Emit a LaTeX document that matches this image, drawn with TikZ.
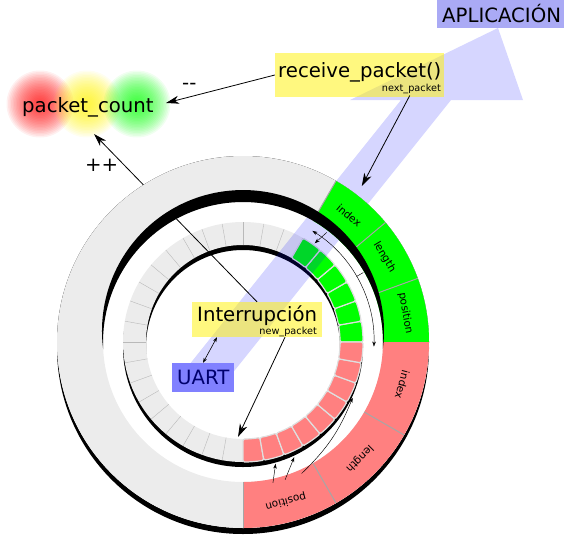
\documentclass[tikz,border=0pt]{standalone}
\usepackage{fontspec}
\setmainfont{DejaVu Sans}
\usetikzlibrary{arrows.meta, positioning}
\definecolor{RingGray}{RGB}{236,236,236}
\definecolor{SegGreen}{RGB}{0,255,0}
\definecolor{SegRed}{RGB}{255,128,128}
\definecolor{AppBlue}{RGB}{170,170,245}
\definecolor{UartBlue}{RGB}{128,128,255}
\definecolor{UartText}{RGB}{0,0,110}
\tikzset{
  bigtxt/.style={font=\fontsize{19.7}{22}\selectfont, inner sep=0pt, anchor=base west},
  subtxt/.style={font=\fontsize{9.7}{11}\selectfont, inner sep=0pt, anchor=base east},
  notebox/.style={fill=yellow, fill opacity=0.5, inner sep=0pt},
  appbox/.style={fill=AppBlue, inner sep=0pt},
  uartbox/.style={fill=UartBlue, inner sep=0pt},
  seglbl/.style={font=\fontsize{10.5}{12}\selectfont, inner sep=0pt},
  cell/.style={draw=gray!25, line width=1.2pt, rounded corners=1.5pt},
  band/.style={fill=blue, fill opacity=0.16},
  arr/.style={-{Stealth[length=13pt, width=8pt, inset=4pt]}, line width=0.8pt},
  sarr/.style={-{Stealth[length=5pt, width=3.5pt, inset=1.5pt]}, line width=0.45pt},
  dsarr/.style={{Stealth[length=5pt, width=3.5pt, inset=1.5pt]}-{Stealth[length=5pt, width=3.5pt, inset=1.5pt]}, line width=0.6pt},
}
\begin{document}
\begin{tikzpicture}[x=1pt, y=1pt]
  \useasboundingbox (0,0) rectangle (570,-536);
  \coordinate (C) at (243,-342);

  % buffer circular interior
  \fill[black, even odd rule] (243,-347) circle (120) (243,-347) circle (97);
  \fill[RingGray, even odd rule] (C) circle (120) (C) circle (97);
  \foreach \a in {60,70,...,270}
    \draw[gray!55, line width=0.4pt] ([shift={(C)}]\a:97) -- ([shift={(C)}]\a:120);
  \foreach \a in {0,10,...,50}
    \filldraw[cell, fill=SegGreen] ([shift={(C)}]\a:97) arc[start angle=\a, end angle=\a+10, radius=97]
      -- ([shift={(C)}]{\a+10}:120) arc[start angle=\a+10, end angle=\a, radius=120] -- cycle;
  \foreach \a in {-90,-80,...,-10}
    \filldraw[cell, fill=SegRed] ([shift={(C)}]\a:97) arc[start angle=\a, end angle=\a+10, radius=97]
      -- ([shift={(C)}]{\a+10}:120) arc[start angle=\a+10, end angle=\a, radius=120] -- cycle;

  % flecha de la aplicacion
  \fill[band] (177,-380) -- (227,-380) -- (451,-100) -- (523,-100) -- (498,-28) -- (350,-100) -- (401,-100) -- cycle;

  % recuadros
  \node[appbox, minimum width=127pt, minimum height=28pt] (app) at (500.5,-14) {};
  \node[bigtxt] (apptxt) at (442,-22.7) {APLICACIÓN};
  \node[notebox, minimum width=169pt, minimum height=44pt] (recv) at (359.5,-75) {};
  \node[bigtxt] (recvtxt) at (278,-77) {receive\_packet()};
  \node[subtxt] (nexttxt) at (441,-91) {next\_packet};
  \node[notebox, minimum width=130pt, minimum height=35pt] (intr) at (257,-319.5) {};
  \node[bigtxt] (intrtxt) at (197,-321) {Interrupción};
  \node[subtxt] (newtxt) at (317,-334) {new\_packet};
  \node[uartbox, minimum width=62pt, minimum height=29pt] (uart) at (203,-377.5) {};
  \node[bigtxt, text=UartText] (uarttxt) at (177,-384) {UART};

  % contador
  \foreach \x/\c in {40/red, 87/yellow, 137/green}
    \foreach \i in {1,...,20}
      \fill[\c, opacity=0.06] (\x,-104) circle ({35-1.5*\i});
  \node[bigtxt] (count) at (22,-112) {packet\_count};
  \node[bigtxt] (dec) at (182,-89) {-{}-};
  \node[bigtxt] (inc) at (85,-171) {++};

  \draw[arr] (intr.north) -- (94,-134);

  % buffer circular exterior
  \fill[black, even odd rule] (243,-348) circle (186) (C) circle (186);
  \fill[RingGray, even odd rule] (C) circle (186) (C) circle (140);
  \foreach \a/\b/\c in {60/40/SegGreen, 40/20/SegGreen, 20/0/SegGreen, 0/-30/SegRed, -30/-60/SegRed, -60/-90/SegRed}
    \fill[\c] ([shift={(C)}]\a:140) arc[start angle=\a, end angle=\b, radius=140]
      -- ([shift={(C)}]\b:186) arc[start angle=\b, end angle=\a, radius=186] -- cycle;
  \foreach \a in {60,40,20,-30,-60,-90}
    \draw[gray!70, line width=1pt] ([shift={(C)}]\a:140) -- ([shift={(C)}]\a:186);
  \fill[black] ([shift={(C)}]-2.98:140) arc[start angle=-2.98, end angle=182.98, radius=140]
    arc[start angle=187.44, end angle=-7.44, radius=141] -- cycle;
  \foreach \a/\t [count=\i] in {50/index, 31/length, 10/position, -15/index, -45/length, -75/position}
    \node[seglbl, rotate=\a-90] (seg\i) at ([shift={(C)}]\a:165) {\t};

  % punteros
  \coordinate (head) at ([shift={(C)}]52.7:196);
  \coordinate (newp) at ([shift={(C)}]-93:95);
  \draw[arr] (recv.west) -- (166,-103);
  \draw[arr] ([yshift=-2pt]nexttxt.south west) ++(28,0) -- (head);
  \draw[arr] ([xshift=28pt]intr.south) -- (newp);
  \draw[dsarr] (uart.north) -- ([xshift=-40pt]intr.south);
  \draw[sarr] ([shift={(C)}]52.6:138) -- ([shift={(C)}]54:122);
  \draw[dsarr, line width=0.45pt] ([shift={(C)}]58:131) arc[start angle=58, end angle=-2, radius=131];
  \draw[line width=0.45pt] ([shift={(C)}]30:131) -- ([shift={(C)}]30:139);
  \draw[sarr] ([shift={(C)}]-78:144) -- ([shift={(C)}]-75:126);
  \draw[sarr] ([shift={(C)}]-73:144) -- ([shift={(C)}]-66:126);
  \draw[sarr] ([shift={(C)}]-66:144) to[bend right=12] ([shift={(C)}]-27:123);
\end{tikzpicture}
\end{document}
